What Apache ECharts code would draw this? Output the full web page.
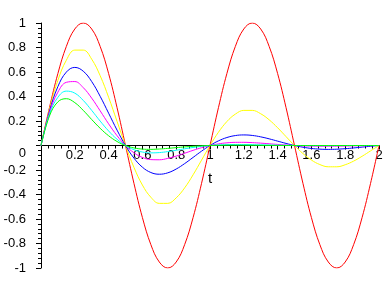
<!DOCTYPE html>
<html>
<head>
<meta charset="utf-8">
<script src="https://cdn.jsdelivr.net/npm/echarts@6/dist/echarts.min.js"></script>
<style>
html,body{margin:0;padding:0;background:#fff;}
#chart{width:388px;height:288px;}
</style>
</head>
<body>
<div id="chart"></div>
<script>
// t sample positions (read along the x axis, step 0.05)
var tValues = [0,0.05,0.1,0.15,0.2,0.25,0.3,0.35,0.4,0.45,0.5,0.55,0.6,0.65,0.7,0.75,0.8,0.85,0.9,0.95,1,
  1.05,1.1,1.15,1.2,1.25,1.3,1.35,1.4,1.45,1.5,1.55,1.6,1.65,1.7,1.75,1.8,1.85,1.9,1.95,2];

var redValues = [0,0.309,0.5878,0.809,0.9511,1,0.9511,0.809,0.5878,0.309,0,-0.309,-0.5878,-0.809,-0.9511,-1,-0.9511,-0.809,-0.5878,-0.309,0,
  0.309,0.5878,0.809,0.9511,1,0.9511,0.809,0.5878,0.309,0,-0.309,-0.5878,-0.809,-0.9511,-1,-0.9511,-0.809,-0.5878,-0.309,0];

var yellowValues = [0,0.2939,0.5319,0.6963,0.7787,0.7788,0.7046,0.5701,0.394,0.197,0,-0.1783,-0.3226,-0.4223,-0.4723,-0.4724,-0.4274,-0.3458,-0.239,-0.1195,0,
  0.1081,0.1957,0.2562,0.2865,0.2865,0.2592,0.2097,0.145,0.0725,0,-0.0656,-0.1187,-0.1554,-0.1737,-0.1738,-0.1572,-0.1272,-0.0879,-0.044,0];

var blueValues = [0,0.2796,0.4812,0.5993,0.6375,0.6065,0.522,0.4017,0.2641,0.1256,0,-0.1029,-0.177,-0.2205,-0.2345,-0.2231,-0.192,-0.1478,-0.0972,-0.0462,0,
  0.0378,0.0651,0.0811,0.0863,0.0821,0.0706,0.0544,0.0357,0.017,0,-0.0139,-0.024,-0.0298,-0.0317,-0.0302,-0.026,-0.02,-0.0131,-0.0063,0];

var magentaValues = [0,0.266,0.4355,0.5158,0.522,0.4724,0.3867,0.2831,0.177,0.0801,0,-0.0593,-0.0972,-0.1151,-0.1165,-0.1054,-0.0863,-0.0632,-0.0395,-0.0179,0,
  0.0132,0.0217,0.0257,0.026,0.0235,0.0193,0.0141,0.0088,0.004,0,-0.003,-0.0048,-0.0057,-0.0058,-0.0053,-0.0043,-0.0031,-0.002,-0.0009,0];

var cyanValues = [0,0.253,0.394,0.444,0.4274,0.3679,0.2865,0.1995,0.1187,0.0511,0,-0.0342,-0.0533,-0.0601,-0.0578,-0.0498,-0.0388,-0.027,-0.0161,-0.0069,0,
  0.0046,0.0072,0.0081,0.0078,0.0067,0.0053,0.0037,0.0022,0.0009,0,-0.0006,-0.001,-0.0011,-0.0011,-0.0009,-0.0007,-0.0005,-0.0003,-0.0001,0];

var greenValues = [0,0.2406,0.3565,0.3821,0.3499,0.2865,0.2122,0.1406,0.0796,0.0326,0,-0.0198,-0.0293,-0.0314,-0.0287,-0.0235,-0.0174,-0.0115,-0.0065,-0.0027,0,
  0.0016,0.0024,0.0026,0.0024,0.0019,0.0014,0.0009,0.0005,0.0002,0,-0.0001,-0.0002,-0.0002,-0.0002,-0.0001,-0.0001,-0.0001,0,0,0];

var xTickLabels = ['0.2','0.4','0.6','0.8','1','1.2','1.4','1.6','1.8','2'];
var yTickLabels = ['-1','-0.8','-0.6','-0.4','-0.2','0','0.2','0.4','0.6','0.8','1'];

var seriesList = [
  {name: 'red', values: redValues, color: '#ff0000'},
  {name: 'yellow', values: yellowValues, color: '#ffff00'},
  {name: 'blue', values: blueValues, color: '#0000ff'},
  {name: 'magenta', values: magentaValues, color: '#ff00ff'},
  {name: 'cyan', values: cyanValues, color: '#00ffff'},
  {name: 'green', values: greenValues, color: '#00ff00'}
];

function pairs(vals) {
  return tValues.map(function (t, i) { return [t, vals[i]]; });
}

var gridTop = 23, gridBottom = 20, chartH = 288;
var plotH = chartH - gridTop - gridBottom;

var fontFam = '"Liberation Sans", Arial, sans-serif';
var chart = echarts.init(document.getElementById('chart'), null, {renderer: 'canvas'});
chart.setOption({
  animation: false,
  backgroundColor: '#ffffff',
  grid: {left: 41, right: 9, top: gridTop, bottom: gridBottom, containLabel: false, outerBoundsMode: 'none'},
  xAxis: {
    type: 'value', min: 0, max: 2, interval: 0.2,
    position: 'bottom',
    offset: -plotH / 2,
    name: 't', nameLocation: 'middle', nameGap: 26,
    nameTextStyle: {color: '#000', fontSize: 15, fontFamily: fontFam},
    axisLine: {show: true, onZero: false, lineStyle: {color: '#000', width: 1}},
    axisTick: {show: true, length: 4, lineStyle: {color: '#000'}},
    minorTick: {show: true, splitNumber: 5, length: 3, lineStyle: {color: '#000'}},
    splitLine: {show: false},
    axisLabel: {
      color: '#000', fontSize: 13, fontFamily: fontFam, margin: 3,
      formatter: function (v) {
        var s = String(Math.round(v * 10) / 10);
        return xTickLabels.indexOf(s) >= 0 ? s : '';
      }
    }
  },
  yAxis: {
    type: 'value', min: -1, max: 1, interval: 0.2,
    axisLine: {show: true, onZero: false, lineStyle: {color: '#000', width: 1}},
    axisTick: {show: true, length: 5, lineStyle: {color: '#000'}},
    minorTick: {show: true, splitNumber: 5, length: 3, lineStyle: {color: '#000'}},
    splitLine: {show: false},
    axisLabel: {
      color: '#000', fontSize: 13, fontFamily: fontFam, margin: 15,
      formatter: function (v) {
        var s = String(Math.round(v * 10) / 10);
        if (s === '0') return '{z|0}';
        return yTickLabels.indexOf(s) >= 0 ? s : '';
      },
      rich: {
        z: {color: '#000', fontSize: 13, fontFamily: fontFam, padding: [16, 0, 0, 0]}
      }
    }
  },
  series: seriesList.map(function (s) {
    return {
      name: s.name, type: 'line', data: pairs(s.values),
      smooth: 0.4, showSymbol: false, symbol: 'none',
      lineStyle: {color: s.color, width: 1},
      itemStyle: {color: s.color}
    };
  })
});
</script>
</body>
</html>
